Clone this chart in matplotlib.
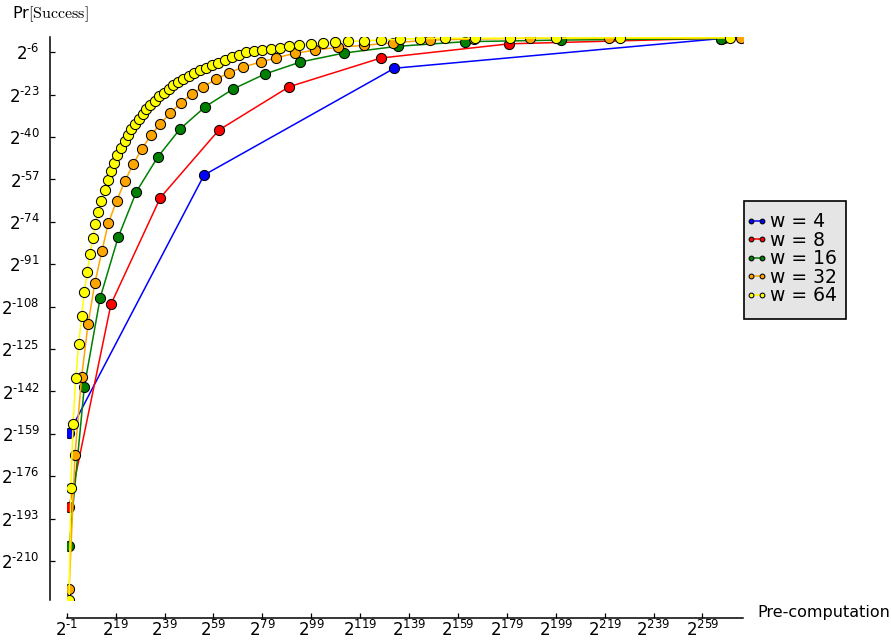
import numpy as np
import matplotlib
matplotlib.use("Agg")
import matplotlib.pyplot as plt
from matplotlib.ticker import FixedLocator, FuncFormatter, NullLocator
from matplotlib.patches import Rectangle

# -------------------------------------------------------------------
# data: log2 of pre-computation (x) and log2 of Pr[Success] (y)
# -------------------------------------------------------------------
w4_x = [0, 55.2, 133.0, 266.5]
w4_y = [-158.6, -55.2, -12.4, -0.5]

w8_x = [0, 17.1, 37.3, 61.2, 90.0, 127.5, 180.0, 268.0]
w8_y = [-188.3, -107.0, -64.3, -37.2, -19.8, -8.3, -2.6, -0.3]

w16_x = [0, 6.2, 12.7, 20.1, 27.5, 36.3, 45.3, 55.7, 67.1, 80.1, 94.6,
         112.4, 134.3, 161.9, 201.3, 266.8]
w16_y = [-204.0, -140.1, -104.4, -80.0, -61.9, -47.9, -36.8, -27.8, -20.7,
         -14.7, -9.9, -6.3, -3.6, -1.75, -1.1, -0.5]

w32_x = [0, 2.4, 5.1, 7.7, 10.5, 13.4, 16.0, 19.4, 22.8, 26.2, 29.7, 33.4,
         37.3, 41.4, 45.8, 50.1, 54.9, 60.1, 65.4, 71.2, 78.3, 84.8, 92.3,
         100.7, 110.0, 120.6, 132.5, 147.5, 165.5, 188.6, 220.7, 274.8]
w32_y = [-221.2, -167.3, -136.3, -115.1, -98.6, -85.7, -74.6, -65.6, -57.6,
         -50.8, -44.8, -39.3, -34.7, -30.2, -26.2, -22.8, -19.8, -16.8,
         -14.2, -11.9, -9.9, -8.2, -6.4, -5.1, -4.0, -3.2, -2.2, -1.1, -0.7,
         -0.4, -0.4, -0.2]

w64_x = [0, 0.7, 1.6, 2.7, 3.9, 5.1, 6.2, 7.4, 8.5, 9.76, 10.7, 11.97, 13.2,
         14.6, 15.9, 17.3, 18.3, 19.7, 21.1, 22.7, 24.1, 25.4, 26.9, 28.4,
         30.1, 31.6, 33.2, 35.1, 36.9, 38.8, 40.7, 42.6, 44.7, 46.7, 48.9,
         51.1, 53.5, 56.0, 58.4, 61.0, 63.7, 66.5, 69.3, 72.5, 75.7, 78.9,
         82.4, 86.2, 90.0, 94.1, 98.8, 103.7, 108.7, 114.2, 120.6, 127.5,
         135.3, 143.7, 153.6, 165.9, 180.2, 199.0, 225.2, 270.2]
w64_y = [-225.4, -180.8, -155.0, -136.7, -123.1, -111.7, -102.3, -94.1,
         -86.9, -80.6, -74.8, -70.2, -65.5, -61.2, -57.3, -53.6, -50.3,
         -47.2, -44.3, -41.4, -39.2, -36.9, -34.7, -32.6, -30.6, -28.7,
         -27.0, -25.4, -23.6, -22.2, -20.7, -19.2, -17.9, -16.7, -15.5,
         -14.3, -13.2, -12.2, -11.2, -10.2, -9.2, -7.9, -7.0, -6.0, -5.6,
         -5.2, -4.7, -4.2, -3.6, -3.0, -2.7, -2.4, -1.9, -1.6, -1.4, -1.1,
         -0.7, -0.5, -0.4, -0.4, -0.3, -0.3, -0.2, -0.2]

series = [
    ("w = 4", w4_x, w4_y, "#0000ff"),
    ("w = 8", w8_x, w8_y, "#ff0000"),
    ("w = 16", w16_x, w16_y, "#008000"),
    ("w = 32", w32_x, w32_y, "#ffa500"),
    ("w = 64", w64_x, w64_y, "#ffff00"),
]

x_ticks = np.arange(-1, 260, 20)
y_ticks = np.arange(-6, -211, -17)


def pow2_label(v, pos):
    e = int(round(np.log2(v)))
    if e < 0:
        return r"$2^{\text{-}%d}$" % (-e)
    return r"$2^{%d}$" % e


# -------------------------------------------------------------------
# figure
# -------------------------------------------------------------------
W, H = 891, 643
fig = plt.figure(figsize=(W / 100, H / 100), dpi=100)
ax = fig.add_axes([66.7 / W, 1 - 600 / H, (743 - 66.7) / W, (600 - 36.7) / H])

handles = []
for label, xs, ys, col in series:
    ln, = ax.plot(np.exp2(xs), np.exp2(ys), color=col, lw=1.1, marker="o",
                  markersize=7.3, markerfacecolor=col, markeredgecolor="black",
                  markeredgewidth=0.75, label=label)
    handles.append(ln)

ax.set_xscale("log", base=2)
ax.set_yscale("log", base=2)
ax.set_xlim(2.0 ** -1, 2.0 ** 275.6)
ax.set_ylim(2.0 ** -225.6, 2.0 ** 0.25)

fmt = FuncFormatter(pow2_label)
ax.xaxis.set_major_locator(FixedLocator(np.exp2(x_ticks)))
ax.yaxis.set_major_locator(FixedLocator(np.exp2(y_ticks)))
ax.xaxis.set_minor_locator(NullLocator())
ax.yaxis.set_minor_locator(NullLocator())
ax.xaxis.set_major_formatter(fmt)
ax.yaxis.set_major_formatter(fmt)

for s in ["top", "right"]:
    ax.spines[s].set_visible(False)
ax.spines["left"].set_position(("outward", 12))
ax.spines["bottom"].set_position(("outward", 12.7))
ax.spines["left"].set_linewidth(1.1)
ax.spines["bottom"].set_linewidth(1.1)

ax.tick_params(axis="both", direction="in", length=3.8, width=0.9, labelsize=12)
ax.tick_params(axis="y", pad=7.5)
ax.tick_params(axis="x", pad=1.5)

# axis labels placed like the original
fig.text(12 / W, 1 - 18 / H, r"Pr$[\mathrm{Success}]$", math_fontfamily="cm",
         fontsize=11.5, va="baseline", ha="left")
fig.text(757 / W, 1 - 616.5 / H, "Pre-computation", fontsize=11.5,
         va="baseline", ha="left")

# legend with a plain grey box
box = Rectangle((744 / W, 1 - 319 / H), (846 - 744) / W, (319 - 201) / H,
                transform=fig.transFigure, facecolor="#e5e5e5",
                edgecolor="black", lw=1.2, zorder=4)
fig.add_artist(box)
fig.legend(handles=handles, loc="center left",
           bbox_to_anchor=(745.4 / W, 1 - 258.7 / H),
           bbox_transform=fig.transFigure, frameon=False, fontsize=13.5,
           markerscale=0.47, numpoints=2, handlelength=1.17,
           handletextpad=0.15, labelspacing=-0.025, borderpad=0,
           borderaxespad=0)

fig.savefig("out.png", dpi=100)
